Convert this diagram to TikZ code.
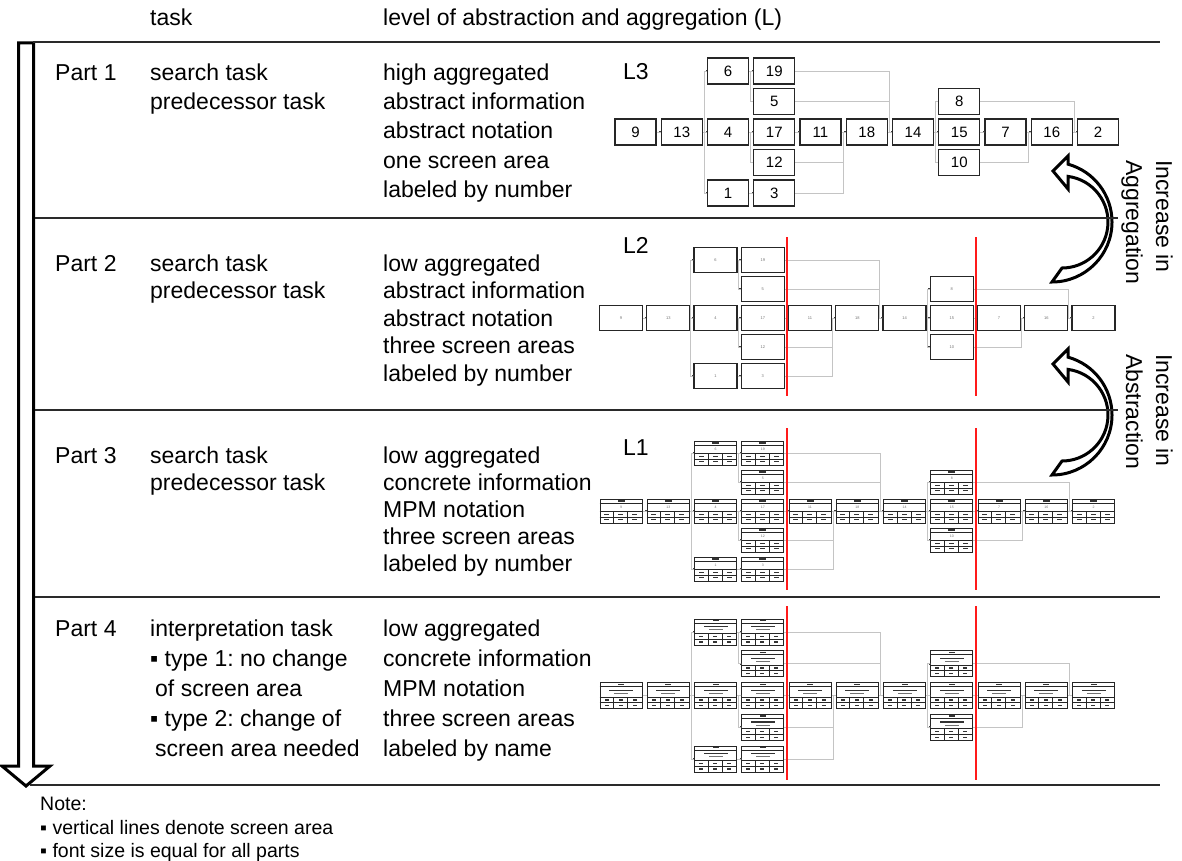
\documentclass[tikz,border=0pt]{standalone}
\usepackage{fontspec}
\setmainfont{Liberation Sans}
\usetikzlibrary{calc}
\frenchspacing
\definecolor{conngray}{HTML}{C4C4C4}
\definecolor{rulegray}{HTML}{2A2A2A}
\definecolor{redline}{HTML}{FF1A1A}
\newcommand\mynetlist{9/0/2,13/1/2,4/2/2,17/3/2,11/4/2,18/5/2,14/6/2,15/7/2,7/8/2,16/9/2,2/10/2,6/2/0,19/3/0,5/3/1,12/3/3,1/2/4,3/3/4,8/7/1,10/7/3}
\newcommand\netconn[1]{%
 \draw[conn] (#19.east) -- (#113.west);
 \draw[conn] (#113.east) -- (#14.west);
 \draw[conn] (#16.west) -- ++(-2.5,0) |- (#11.west);
 \draw[conn] (#16.east) -- (#119.west);
 \draw[conn] (#119.west) -- ++(-2.5,0) |- (#15.west);
 \draw[conn] (#14.east) -- (#117.west);
 \draw[conn] (#117.west) -- ++(-2.5,0) |- (#112.west);
 \draw[conn] (#11.east) -- (#13.west);
 \draw[conn] (#117.east) -- (#111.west);
 \draw[conn] (#111.east) -- (#118.west);
 \draw[conn] (#112.east) -| ([xshift=-2.5pt]#118.west) -- (#118.west);
 \draw[conn] (#13.east) -| ([xshift=-2.5pt]#118.west);
 \draw[conn] (#119.east) -| ([xshift=-2.5pt]#114.west) -- (#114.west);
 \draw[conn] (#15.east) -| ([xshift=-2.5pt]#114.west);
 \draw[conn] (#118.east) -- (#114.west);
 \draw[conn] (#114.east) -- (#115.west);
 \draw[conn] (#18.west) -- ++(-2.5,0) |- (#110.west);
 \draw[conn] (#115.east) -- (#17.west);
 \draw[conn] (#17.east) -- (#116.west);
 \draw[conn] (#110.east) -| ([xshift=-2.5pt]#116.west) -- (#116.west);
 \draw[conn] (#116.east) -- (#12.west);
 \draw[conn] (#18.east) -| ([xshift=-2.5pt]#12.west) -- (#12.west);
}
\newcommand\entrymark[1]{\fill[black!75] ([xshift=-1.3pt,yshift=-0.9pt]#1.west) rectangle ([xshift=0.3pt,yshift=0.9pt]#1.west);}
\newcommand\tl[4]{\node[txt] (#1) at (#2,#3) {#4};}
\newcommand\curvarrow[2]{%
 \draw[line width=3pt, line join=miter, fill=white] (1052,{282+#2}) arc[start angle=90, end angle=-74.5, radius=60]
  -- (1068,{156+#2}) -- (1053,{171+#2}) -- (1068,{189+#2}) -- (1068,{176.4+#2})
  arc[start angle=-82.5, end angle=90, radius=46] -- cycle;
 \coordinate (#1) at (1080,{222+#2});
}
\begin{document}
\begin{tikzpicture}[x=1pt,y=-1pt,
  font=\fontsize{23}{30}\selectfont,
  txt/.style={anchor=base west, inner sep=0pt, text=black},
  notetxt/.style={txt, font=\fontsize{19.5}{22}\selectfont},
  conn/.style={draw=conngray, line width=0.8pt},
  rulel/.style={draw=rulegray, line width=1.5pt},
  boxA/.style={draw=black!85, line width=1.3pt, fill=white, minimum width=41pt, minimum height=26pt, inner sep=0pt, font=\fontsize{15}{15}\selectfont},
  boxB/.style={draw=black!85, line width=1.3pt, fill=white, minimum width=43pt, minimum height=25pt, inner sep=0pt, font=\fontsize{4}{4}\selectfont, text=black!55},
  boxC/.style={draw=black!85, line width=1pt, fill=white, minimum width=42pt, minimum height=24pt, inner sep=0pt},
  boxD/.style={draw=black!85, line width=1pt, fill=white, minimum width=42pt, minimum height=26pt, inner sep=0pt},
  inl/.style={draw=black!85, line width=0.6pt},
  bar/.style={fill=black!80},
  redl/.style={draw=redline, line width=2pt},
  lvl/.style={anchor=west, inner sep=0pt}
]
\useasboundingbox (0,0) rectangle (1182,861);
\fill[white] (0,0) rectangle (1182,861);

% big downward arrow
\draw[line width=3pt, line join=miter, fill=white] (18.5,43) -- (33.5,43) -- (33.5,766) -- (50,766) -- (26,786) -- (2,766) -- (18.5,766) -- cycle;

% curved arrows
\curvarrow{arrA}{0}
\curvarrow{arrB}{193}

% rules
\draw[rulel] (33,42) -- (1160,42);
\draw[rulel] (35,218) -- (1118,218);
\draw[rulel] (35,410) -- (1118,410);
\draw[rulel] (35,597) -- (1160,597);
\draw[rulel] (30,785) -- (1160,785);

% header
\tl{hTask}{150}{26}{task}
\tl{hLevel}{383}{26}{level of abstraction and aggregation (L)}

% Part 1
\tl{p1a}{55}{81}{Part 1}
\tl{p1b}{150}{81}{search task}
\tl{p1c}{150}{110}{predecessor task}
\tl{p1d}{383}{81}{high aggregated}
\tl{p1e}{383}{110}{abstract information}
\tl{p1f}{383}{139}{abstract notation}
\tl{p1g}{383}{168}{one screen area}
\tl{p1h}{383}{197}{labeled by number}
% Part 2
\tl{p2a}{55}{271}{Part 2}
\tl{p2b}{150}{271}{search task}
\tl{p2c}{150}{298.5}{predecessor task}
\tl{p2d}{383}{271}{low aggregated}
\tl{p2e}{383}{298.5}{abstract information}
\tl{p2f}{383}{326}{abstract notation}
\tl{p2g}{383}{353.5}{three screen areas}
\tl{p2h}{383}{381}{labeled by number}
% Part 3
\tl{p3a}{55}{463}{Part 3}
\tl{p3b}{150}{463}{search task}
\tl{p3c}{150}{490}{predecessor task}
\tl{p3d}{383}{463}{low aggregated}
\tl{p3e}{383}{490}{concrete information}
\tl{p3f}{383}{517}{MPM notation}
\tl{p3g}{383}{544}{three screen areas}
\tl{p3h}{383}{571}{labeled by number}
% Part 4
\tl{p4a}{55}{636}{Part 4}
\tl{p4b}{150}{636}{interpretation task}
\tl{p4c}{150}{666}{▪ type 1: no change}
\tl{p4d}{155}{696}{of screen area}
\tl{p4e}{150}{726}{▪ type 2: change of}
\tl{p4f}{155}{756}{screen area needed}
\tl{p4g}{383}{636}{low aggregated}
\tl{p4h}{383}{666}{concrete information}
\tl{p4i}{383}{696}{MPM notation}
\tl{p4j}{383}{726}{three screen areas}
\tl{p4k}{383}{756}{labeled by name}

% rotated labels
\node[rotate=-90, anchor=north west, align=left, inner sep=0pt] (incA) at (1173,160) {Increase in\\Aggregation};
\node[rotate=-90, anchor=north west, align=left, inner sep=0pt] (incB) at (1173,354) {Increase in\\Abstraction};

% level labels
\node[lvl] (L3) at (623,72) {L3};
\node[lvl] (L2) at (623,245) {L2};
\node[lvl] (L1) at (623,448) {L1};

% ---------- L3 ----------
\foreach \n/\c/\r in \mynetlist {
  \node[boxA] (A\n) at ({635.5+46.25*\c},{71+30.5*\r}) {\n};
  \ifnum\n=9\else\entrymark{A\n}\fi
}
\netconn{A}

% ---------- L2 ----------
\foreach \n/\c/\r in \mynetlist {
  \node[boxB] (B\n) at ({621+47.25*\c},{260+29*\r}) {\n};
  \ifnum\n=9\else\entrymark{B\n}\fi
}
\netconn{B}
\draw[redl] (787,237) -- (787,396);
\draw[redl] (976,237) -- (976,396);

% ---------- L1 ----------
\foreach \n/\c/\r in \mynetlist {
  \node[boxC] (C\n) at ({621+47.25*\c},{453+29*\r}) {};
  \draw[inl] ([yshift=-5pt]C\n.north west) -- ([yshift=-5pt]C\n.north east);
  \draw[inl] ([yshift=-13pt]C\n.north west) -- ([yshift=-13pt]C\n.north east);
  \draw[inl] ([yshift=-18.5pt]C\n.north west) -- ([yshift=-18.5pt]C\n.north east);
  \draw[inl] ([xshift=14pt,yshift=-13pt]C\n.north west) -- ([xshift=14pt]C\n.south west);
  \draw[inl] ([xshift=28pt,yshift=-13pt]C\n.north west) -- ([xshift=28pt]C\n.south west);
  \fill[bar] ([xshift=-3.5pt,yshift=-1.9pt]C\n.north) rectangle ++(7,1.2);
  \node[inner sep=0pt, font=\fontsize{3.5}{3.5}\selectfont, text=black!55] (Cn\n) at ([yshift=-9pt]C\n.north) {\n};
  \foreach \k in {0,1,2}{\foreach \rr in {15.2,20.7}{\fill[bar] ([xshift={4.5+14*\k},yshift={-\rr}]C\n.north west) rectangle ++(5,1.2);}}
  \ifnum\n=9\else\entrymark{C\n}\fi
}
\netconn{C}
\draw[redl] (787,428) -- (787,590);
\draw[redl] (976,428) -- (976,590);

% ---------- L4 ----------
\foreach \n/\c/\r in \mynetlist {
  \node[boxD] (D\n) at ({621+47.25*\c},{632+31.75*\r}) {};
  \draw[inl] ([yshift=-4.5pt]D\n.north west) -- ([yshift=-4.5pt]D\n.north east);
  \draw[inl] ([yshift=-15pt]D\n.north west) -- ([yshift=-15pt]D\n.north east);
  \draw[inl] ([yshift=-20.5pt]D\n.north west) -- ([yshift=-20.5pt]D\n.north east);
  \draw[inl] ([xshift=14pt,yshift=-15pt]D\n.north west) -- ([xshift=14pt]D\n.south west);
  \draw[inl] ([xshift=28pt,yshift=-15pt]D\n.north west) -- ([xshift=28pt]D\n.south west);
  \fill[bar] ([xshift=-3pt,yshift=-1.6pt]D\n.north) rectangle ++(6,1.3);
  \fill[bar] ([xshift=-12pt,yshift=-7.5pt]D\n.north) rectangle ++(24,1.4);
  \fill[black!55] ([xshift=-7pt,yshift=-10.8pt]D\n.north) rectangle ++(14,1);
  \foreach \k in {0,1,2}{\foreach \rr in {17.2,22.8}{\fill[bar] ([xshift={5+14*\k},yshift={-\rr}]D\n.north west) rectangle ++(4,1.3);}}
  \ifnum\n=9\else\entrymark{D\n}\fi
}
\netconn{D}
\draw[redl] (787,606) -- (787,780);
\draw[redl] (976,606) -- (976,780);

% note
\node[notetxt] (n1) at (40,810) {Note:};
\node[notetxt] (n2) at (40,834) {▪ vertical lines denote screen area};
\node[notetxt] (n3) at (40,857) {▪ font size is equal for all parts};
\end{tikzpicture}
\end{document}
